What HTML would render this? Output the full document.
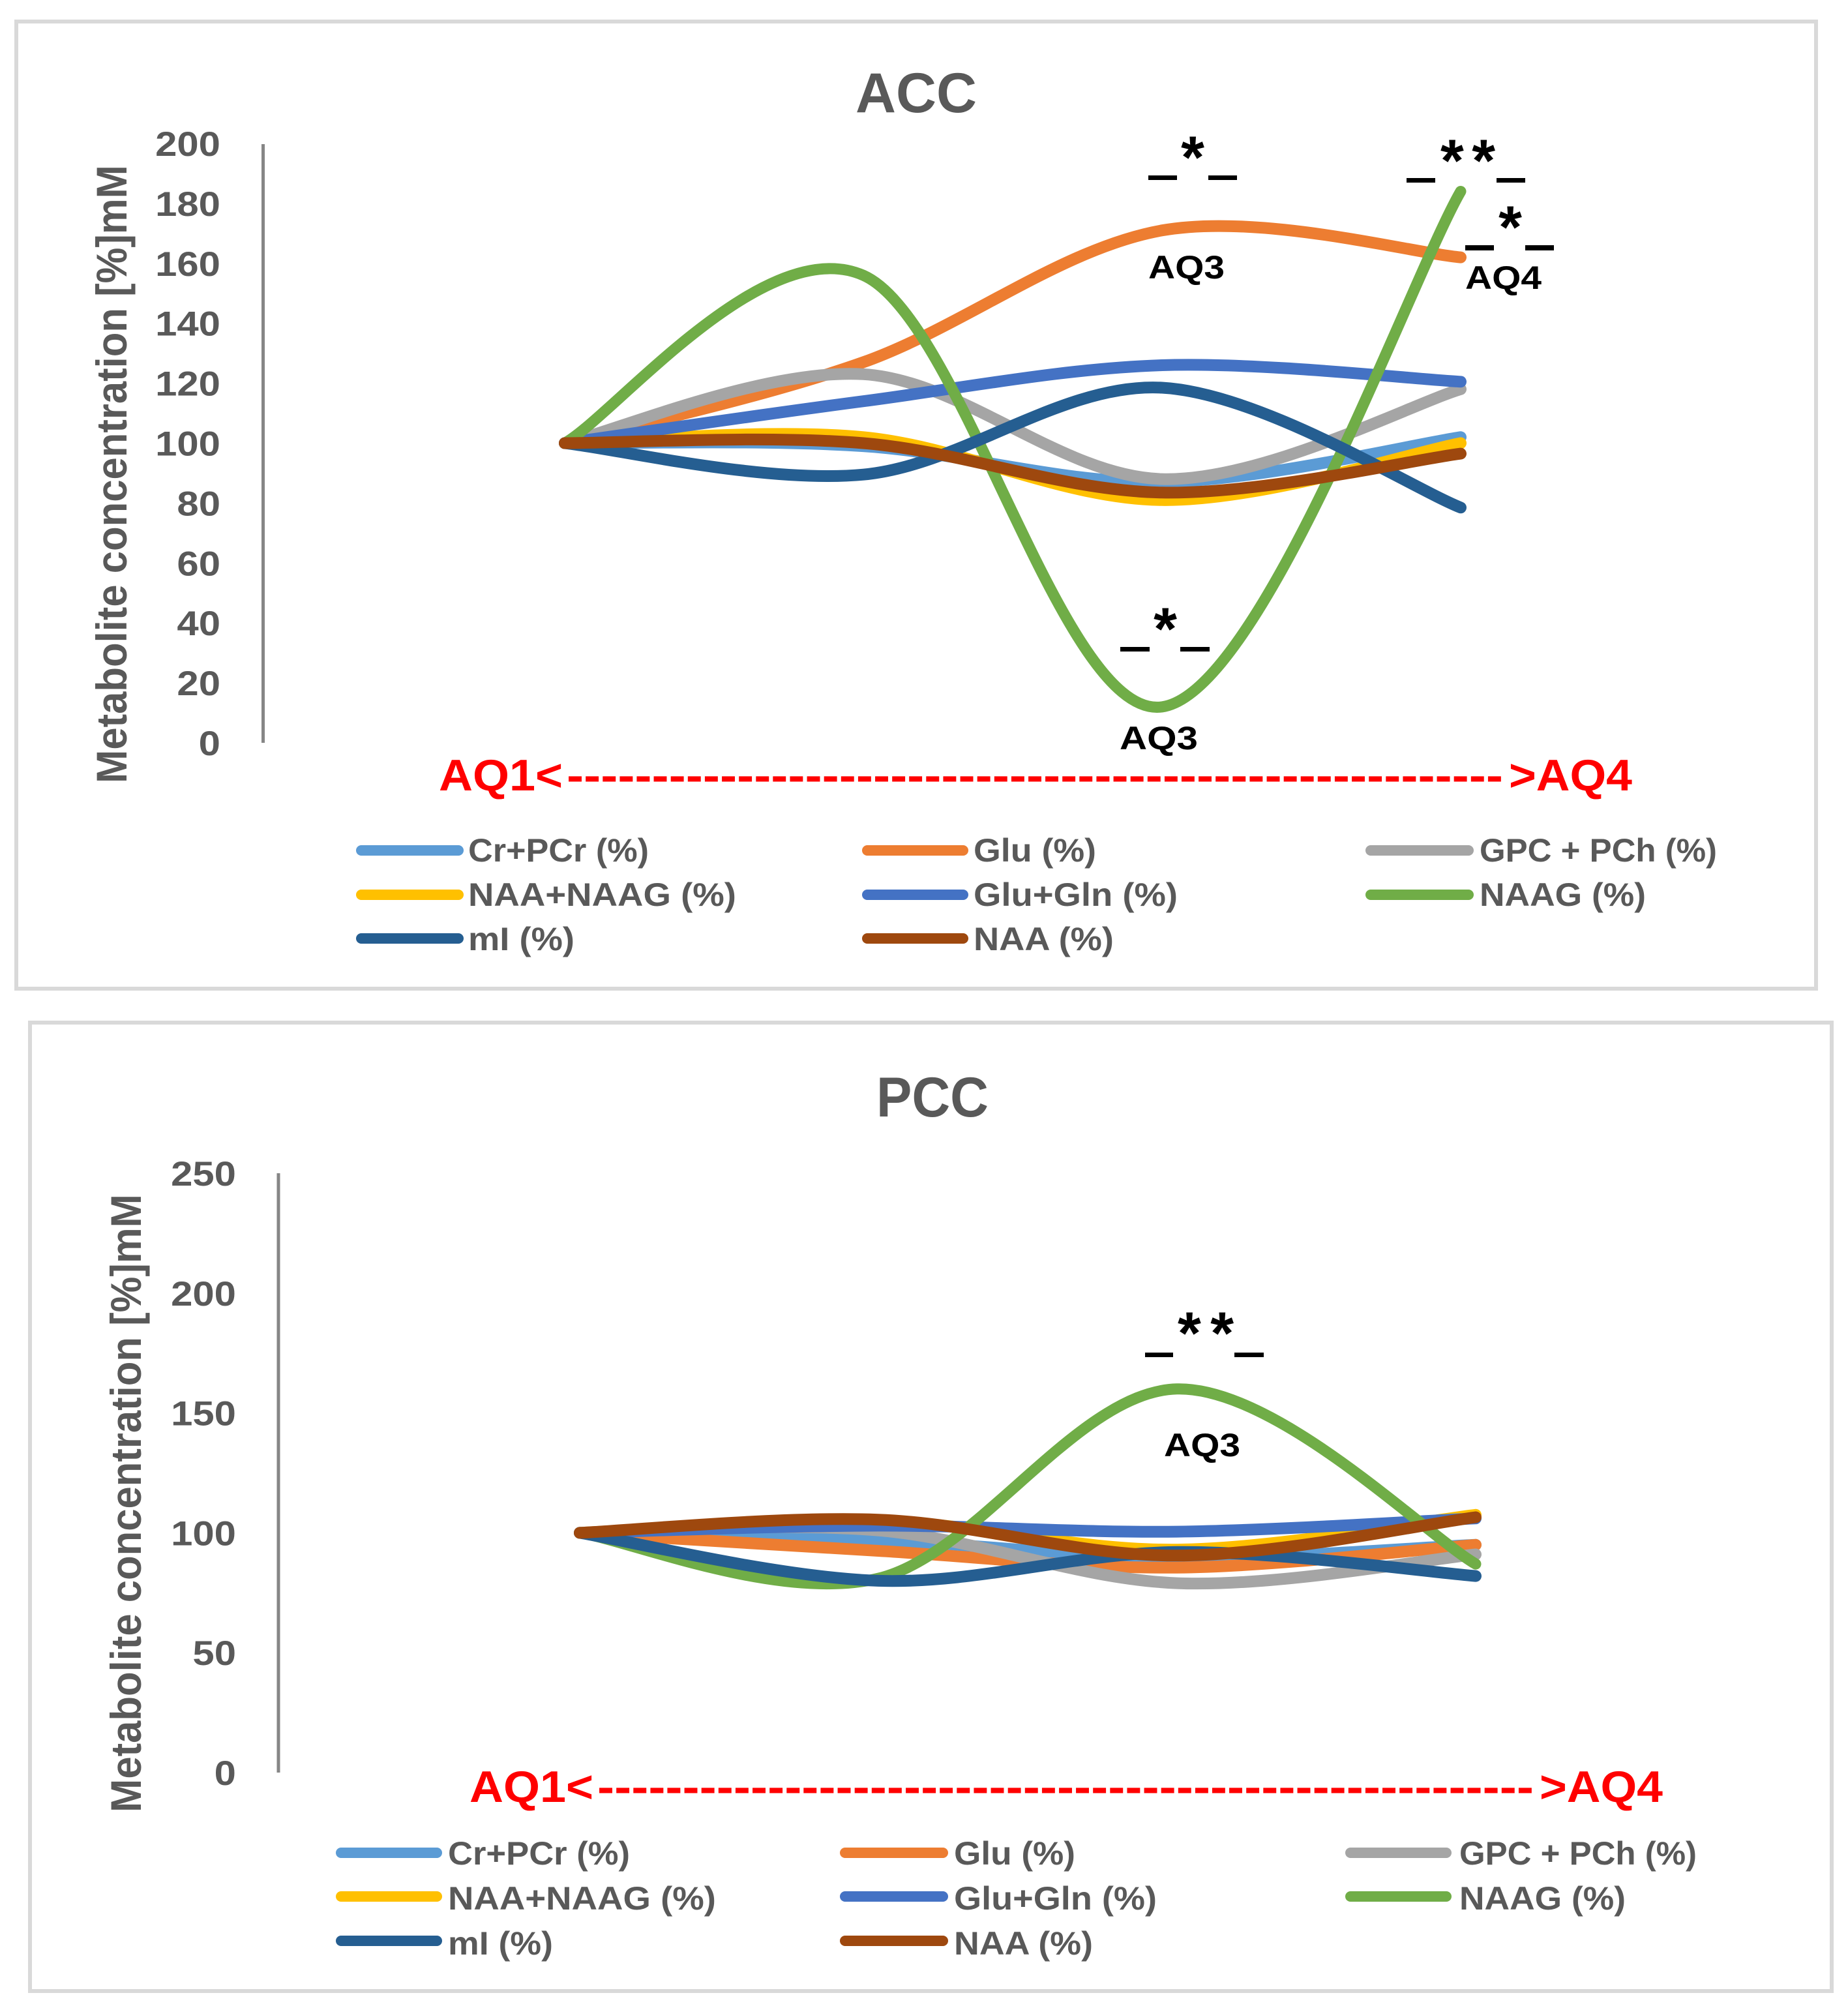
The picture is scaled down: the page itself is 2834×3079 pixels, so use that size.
<!DOCTYPE html>
<html lang="en">
<head>
<meta charset="utf-8">
<title>ACC and PCC metabolite concentration charts</title>
<style>
  html, body { margin: 0; padding: 0; background: #ffffff; }
  svg { display: block; }
  text { font-family: "Liberation Sans", sans-serif; font-weight: bold; }
  .muted { fill: #595959; }
  .legend-text { font-size: 50px; fill: #595959; }
  .ann { font-size: 50px; fill: #000000; }
  .star { font-size: 92px; fill: #000000; }
  .red { font-size: 68px; fill: #ff0000; }
  .sw { stroke-width: 16; stroke-linecap: round; fill: none; }
  .dash { fill: #000000; }
</style>
</head>
<body>
<svg id="figure" xmlns="http://www.w3.org/2000/svg" width="2834" height="3079" viewBox="0 0 2834 3079">
  <rect x="0" y="0" width="2834" height="3079" fill="#ffffff"/>

  <!-- ACC panel -->
  <g id="acc-chart">
    <rect x="25" y="33" width="2760" height="1483" fill="#ffffff" stroke="#d9d9d9" stroke-width="6"/>
    <text class="muted" x="1405" y="172" font-size="86" text-anchor="middle" textLength="186" lengthAdjust="spacingAndGlyphs">ACC</text>
    <text class="muted" font-size="66" text-anchor="middle" transform="translate(194 727) rotate(-90)" textLength="948" lengthAdjust="spacingAndGlyphs">Metabolite concentration [%]mM</text>
    <line x1="403.500" y1="221" x2="403.500" y2="1139" stroke="#868686" stroke-width="5"/>
    <g id="acc-ticks"></g>
    <g id="acc-series"></g>

    <text class="red" x="673" y="1212" textLength="190" lengthAdjust="spacingAndGlyphs">AQ1&lt;</text>
    <text class="red" x="869" y="1212" textLength="1436" lengthAdjust="spacingAndGlyphs">-------------------------------------------------------</text>
    <text class="red" x="2314" y="1212" textLength="189" lengthAdjust="spacingAndGlyphs">&gt;AQ4</text>

    <text class="star" x="1829" y="273" text-anchor="middle">*</text>
    <rect class="dash" x="1761" y="269" width="44" height="7"/>
    <rect class="dash" x="1853" y="269" width="44" height="7"/>
    <text class="ann" x="1761" y="427" textLength="117" lengthAdjust="spacingAndGlyphs">AQ3</text>

    <text class="star" x="2209" y="278" textLength="84" lengthAdjust="spacing">**</text>
    <rect class="dash" x="2157" y="273" width="44" height="7"/>
    <rect class="dash" x="2295" y="273" width="44" height="7"/>

    <text class="star" x="2316" y="380" text-anchor="middle">*</text>
    <rect class="dash" x="2247" y="376" width="44" height="8"/>
    <rect class="dash" x="2339" y="376" width="44" height="8"/>
    <text class="ann" x="2247" y="443" textLength="117" lengthAdjust="spacingAndGlyphs">AQ4</text>

    <text class="star" x="1787" y="996" text-anchor="middle">*</text>
    <rect class="dash" x="1718" y="992" width="45" height="7"/>
    <rect class="dash" x="1810" y="992" width="45" height="7"/>
    <text class="ann" x="1717" y="1149" textLength="120" lengthAdjust="spacingAndGlyphs">AQ3</text>

    <g>
      <line class="sw" x1="554" y1="1304" x2="703" y2="1304" stroke="#5b9bd5"/>
      <text class="legend-text" x="718" y="1321" textLength="277" lengthAdjust="spacingAndGlyphs">Cr+PCr (%)</text>
      <line class="sw" x1="1330" y1="1304" x2="1477" y2="1304" stroke="#ed7d31"/>
      <text class="legend-text" x="1493" y="1321" textLength="188" lengthAdjust="spacingAndGlyphs">Glu (%)</text>
      <line class="sw" x1="2102" y1="1304" x2="2252" y2="1304" stroke="#a5a5a5"/>
      <text class="legend-text" x="2269" y="1321" textLength="364" lengthAdjust="spacingAndGlyphs">GPC + PCh (%)</text>
      <line class="sw" x1="554" y1="1372" x2="703" y2="1372" stroke="#ffc000"/>
      <text class="legend-text" x="718" y="1389" textLength="411" lengthAdjust="spacingAndGlyphs">NAA+NAAG (%)</text>
      <line class="sw" x1="1330" y1="1372" x2="1477" y2="1372" stroke="#4472c4"/>
      <text class="legend-text" x="1493" y="1389" textLength="313" lengthAdjust="spacingAndGlyphs">Glu+Gln (%)</text>
      <line class="sw" x1="2102" y1="1372" x2="2252" y2="1372" stroke="#70ad47"/>
      <text class="legend-text" x="2269" y="1389" textLength="255" lengthAdjust="spacingAndGlyphs">NAAG (%)</text>
      <line class="sw" x1="554" y1="1439" x2="703" y2="1439" stroke="#255e91"/>
      <text class="legend-text" x="718" y="1457" textLength="163" lengthAdjust="spacingAndGlyphs">mI (%)</text>
      <line class="sw" x1="1330" y1="1439" x2="1477" y2="1439" stroke="#9e480e"/>
      <text class="legend-text" x="1493" y="1457" textLength="215" lengthAdjust="spacingAndGlyphs">NAA (%)</text>
    </g>
  </g>

  <!-- PCC panel -->
  <g id="pcc-chart">
    <rect x="46" y="1568" width="2763" height="1485" fill="#ffffff" stroke="#d9d9d9" stroke-width="6"/>
    <text class="muted" x="1430" y="1712" font-size="86" text-anchor="middle" textLength="172" lengthAdjust="spacingAndGlyphs">PCC</text>
    <text class="muted" font-size="66" text-anchor="middle" transform="translate(216 2305) rotate(-90)" textLength="948" lengthAdjust="spacingAndGlyphs">Metabolite concentration [%]mM</text>
    <line x1="427" y1="1799" x2="427" y2="2718" stroke="#868686" stroke-width="5"/>
    <g id="pcc-ticks"></g>
    <g id="pcc-series"></g>

    <text class="red" x="720" y="2763" textLength="190" lengthAdjust="spacingAndGlyphs">AQ1&lt;</text>
    <text class="red" x="916" y="2763" textLength="1436" lengthAdjust="spacingAndGlyphs">-------------------------------------------------------</text>
    <text class="red" x="2361" y="2763" textLength="189" lengthAdjust="spacingAndGlyphs">&gt;AQ4</text>

    <text class="star" x="1806" y="2076" textLength="86" lengthAdjust="spacing">**</text>
    <rect class="dash" x="1756" y="2074" width="43" height="7"/>
    <rect class="dash" x="1893" y="2074" width="45" height="7"/>
    <text class="ann" x="1785" y="2233" textLength="117" lengthAdjust="spacingAndGlyphs">AQ3</text>

    <g>
      <line class="sw" x1="523" y1="2841" x2="670" y2="2841" stroke="#5b9bd5"/>
      <text class="legend-text" x="687" y="2859" textLength="279" lengthAdjust="spacingAndGlyphs">Cr+PCr (%)</text>
      <line class="sw" x1="1296" y1="2841" x2="1446" y2="2841" stroke="#ed7d31"/>
      <text class="legend-text" x="1463" y="2859" textLength="186" lengthAdjust="spacingAndGlyphs">Glu (%)</text>
      <line class="sw" x1="2071" y1="2841" x2="2218" y2="2841" stroke="#a5a5a5"/>
      <text class="legend-text" x="2238" y="2859" textLength="364" lengthAdjust="spacingAndGlyphs">GPC + PCh (%)</text>
      <line class="sw" x1="523" y1="2908" x2="670" y2="2908" stroke="#ffc000"/>
      <text class="legend-text" x="687" y="2928" textLength="411" lengthAdjust="spacingAndGlyphs">NAA+NAAG (%)</text>
      <line class="sw" x1="1296" y1="2908" x2="1446" y2="2908" stroke="#4472c4"/>
      <text class="legend-text" x="1463" y="2928" textLength="311" lengthAdjust="spacingAndGlyphs">Glu+Gln (%)</text>
      <line class="sw" x1="2071" y1="2908" x2="2218" y2="2908" stroke="#70ad47"/>
      <text class="legend-text" x="2238" y="2928" textLength="255" lengthAdjust="spacingAndGlyphs">NAAG (%)</text>
      <line class="sw" x1="523" y1="2976" x2="670" y2="2976" stroke="#255e91"/>
      <text class="legend-text" x="687" y="2997" textLength="161" lengthAdjust="spacingAndGlyphs">mI (%)</text>
      <line class="sw" x1="1296" y1="2976" x2="1446" y2="2976" stroke="#9e480e"/>
      <text class="legend-text" x="1463" y="2997" textLength="213" lengthAdjust="spacingAndGlyphs">NAA (%)</text>
    </g>
  </g>
</svg>

<script>
// Quartile categories shared by both charts
const categories = ['AQ1', 'AQ2', 'AQ3', 'AQ4'];

// Tick labels
const accTicks = [0, 20, 40, 60, 80, 100, 120, 140, 160, 180, 200];
const pccTicks = [0, 50, 100, 150, 200, 250];

// ACC series values
const accCrPcr   = [100, 99, 87, 102];
const accGlu     = [100, 127, 171, 162];
const accGpcPch  = [100, 123, 88, 118];
const accNaaNaag = [100, 102, 81, 100];
const accGluGln  = [100, 114, 126, 120.5];
const accNaag    = [100, 156, 12, 184];
const accMi      = [100, 89.5, 118.5, 78.5];
const accNaa     = [100, 100, 83.5, 96.5];

// PCC series values
const pccCrPcr   = [100, 97, 89.5, 95];
const pccGlu     = [100, 92.5, 85.5, 95];
const pccGpcPch  = [100, 101, 79, 91];
const pccNaaNaag = [100, 105, 93, 107.5];
const pccGluGln  = [100, 103, 100.5, 106];
const pccNaag    = [100, 81, 160, 87];
const pccMi      = [100, 80, 92, 82];
const pccNaa     = [100, 105.5, 90.5, 106.5];

// Series names and colours, in drawing order
const seriesKeys = ['cr-pcr', 'glu', 'gpc-pch', 'naa-naag', 'glu-gln', 'naag', 'mi', 'naa'];
const seriesColors = ['#5b9bd5', '#ed7d31', '#a5a5a5', '#ffc000', '#4472c4', '#70ad47', '#255e91', '#9e480e'];
const accSeries = [accCrPcr, accGlu, accGpcPch, accNaaNaag, accGluGln, accNaag, accMi, accNaa];
const pccSeries = [pccCrPcr, pccGlu, pccGpcPch, pccNaaNaag, pccGluGln, pccNaag, pccMi, pccNaa];

const SVG_NS = 'http://www.w3.org/2000/svg';

function smoothPath(points) {
  let d = 'M' + points[0][0].toFixed(1) + ' ' + points[0][1].toFixed(1);
  for (let i = 0; i < points.length - 1; i++) {
    const p0 = points[Math.max(i - 1, 0)];
    const p1 = points[i];
    const p2 = points[i + 1];
    const p3 = points[Math.min(i + 2, points.length - 1)];
    const c1x = p1[0] + (p2[0] - p0[0]) / 6;
    const c1y = p1[1] + (p2[1] - p0[1]) / 6;
    const c2x = p2[0] - (p3[0] - p1[0]) / 6;
    const c2y = p2[1] - (p3[1] - p1[1]) / 6;
    d += 'C' + c1x.toFixed(1) + ' ' + c1y.toFixed(1) + ' ' + c2x.toFixed(1) + ' ' + c2y.toFixed(1) + ' ' + p2[0].toFixed(1) + ' ' + p2[1].toFixed(1);
  }
  return d;
}

function drawChart(prefix, series, ticks, xAxis, yAxis, tickRight) {
  const tickGroup = document.getElementById(prefix + '-ticks');
  ticks.forEach(function (t) {
    const label = document.createElementNS(SVG_NS, 'text');
    
    
    label.setAttribute('class', 'muted');
    label.setAttribute('font-size', '53');
    label.setAttribute('text-anchor', 'end');
    label.setAttribute('x', tickRight);
    label.setAttribute('y', yAxis(t) + 19);
    label.setAttribute('textLength', String(t).length * 33.3);
    label.setAttribute('lengthAdjust', 'spacingAndGlyphs');
    label.textContent = String(t);
    tickGroup.appendChild(label);
  });
  const seriesGroup = document.getElementById(prefix + '-series');
  series.forEach(function (values, s) {
    const pts = values.map(function (v, i) { return [xAxis(i), yAxis(v)]; });
    const path = document.createElementNS(SVG_NS, 'path');
    
    
    path.setAttribute('d', smoothPath(pts));
    path.setAttribute('fill', 'none');
    path.setAttribute('stroke', seriesColors[s]);
    path.setAttribute('stroke-width', seriesKeys[s] === 'naag' ? '17' : '18');
    path.setAttribute('stroke-linecap', 'round');
    path.setAttribute('stroke-linejoin', 'round');
    seriesGroup.appendChild(path);
  });
}

function accX(i) { return 866 + i * (2240 - 866) / (categories.length - 1); }
function accY(v) { return 1139 - v * (1139 - 220) / 200; }
function pccX(i) { return 889 + i * (2263 - 889) / (categories.length - 1); }
function pccY(v) { return 2718 - v * (2718 - 1799) / 250; }

drawChart('acc', accSeries, accTicks, accX, accY, 338);
drawChart('pcc', pccSeries, pccTicks, pccX, pccY, 362);
</script>
</body>
</html>
